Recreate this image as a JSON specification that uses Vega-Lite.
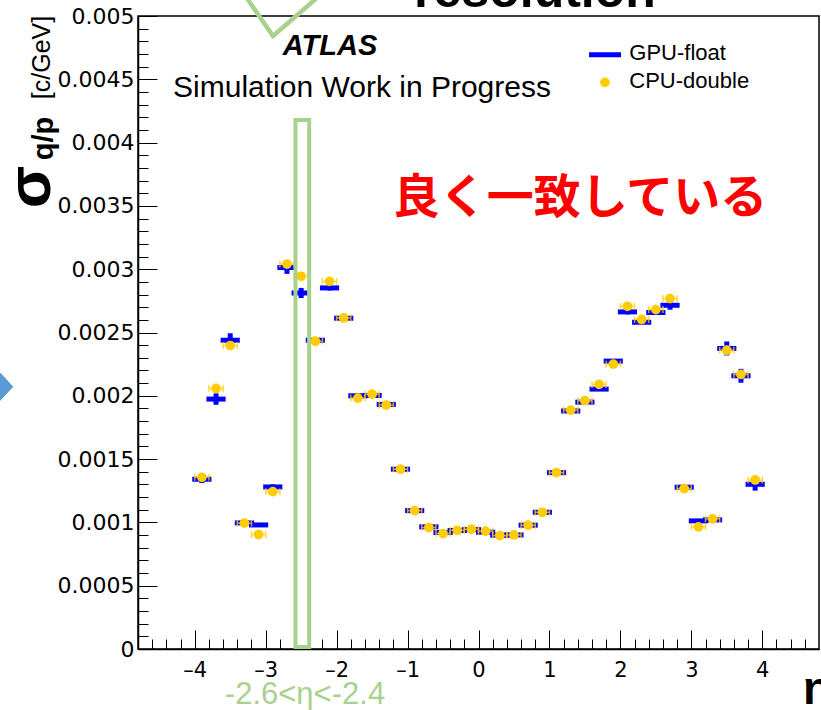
{
  "$schema": "https://vega.github.io/schema/vega-lite/v6.json",
  "width": 681,
  "height": 633,
  "autosize": "none",
  "padding": {"left": 138, "top": 16, "right": 2, "bottom": 61},
  "background": "white",
  "config": {"view": {"stroke": "#000", "strokeWidth": 1.5}, "axis": {"grid": false}},
  "data": {"values": [{}]},
  "datasets": {
    "pts": [
      {"eta": -3.9, "lo": -4.0, "hi": -3.8, "cpu": 0.001356, "gpu": 0.001341, "gerr": 0.00003},
      {"eta": -3.7, "lo": -3.8, "hi": -3.6, "cpu": 0.002058, "gpu": 0.001974, "gerr": 0.000045},
      {"eta": -3.5, "lo": -3.6, "hi": -3.4, "cpu": 0.002397, "gpu": 0.002439, "gerr": 0.000055},
      {"eta": -3.3, "lo": -3.4, "hi": -3.2, "cpu": 0.000994, "gpu": 0.000996, "gerr": 0.00001},
      {"eta": -3.1, "lo": -3.2, "hi": -3.0, "cpu": 0.000904, "gpu": 0.00098, "gerr": 0.00001},
      {"eta": -2.9, "lo": -3.0, "hi": -2.8, "cpu": 0.001243, "gpu": 0.00128, "gerr": 0.00002},
      {"eta": -2.7, "lo": -2.8, "hi": -2.6, "cpu": 0.003041, "gpu": 0.003013, "gerr": 0.00005},
      {"eta": -2.5, "lo": -2.6, "hi": -2.4, "cpu": 0.002944, "gpu": 0.002812, "gerr": 0.00004},
      {"eta": -2.3, "lo": -2.4, "hi": -2.2, "cpu": 0.002431, "gpu": 0.002439, "gerr": 0.00001},
      {"eta": -2.1, "lo": -2.2, "hi": -2.0, "cpu": 0.002904, "gpu": 0.002852, "gerr": 0.00002},
      {"eta": -1.9, "lo": -2.0, "hi": -1.8, "cpu": 0.002615, "gpu": 0.002613, "gerr": 0.00001},
      {"eta": -1.7, "lo": -1.8, "hi": -1.6, "cpu": 0.001982, "gpu": 0.002, "gerr": 0.00001},
      {"eta": -1.5, "lo": -1.6, "hi": -1.4, "cpu": 0.002013, "gpu": 0.002003, "gerr": 0.00001},
      {"eta": -1.3, "lo": -1.4, "hi": -1.2, "cpu": 0.001927, "gpu": 0.001932, "gerr": 0.00001},
      {"eta": -1.1, "lo": -1.2, "hi": -1.0, "cpu": 0.00142, "gpu": 0.00142, "gerr": 0.00001},
      {"eta": -0.9, "lo": -1.0, "hi": -0.8, "cpu": 0.001093, "gpu": 0.001093, "gerr": 0.00001},
      {"eta": -0.7, "lo": -0.8, "hi": -0.6, "cpu": 0.000959, "gpu": 0.000965, "gerr": 0.00001},
      {"eta": -0.5, "lo": -0.6, "hi": -0.4, "cpu": 0.000912, "gpu": 0.00092, "gerr": 0.00001},
      {"eta": -0.3, "lo": -0.4, "hi": -0.2, "cpu": 0.000938, "gpu": 0.000936, "gerr": 0.00001},
      {"eta": -0.1, "lo": -0.2, "hi": 0.0, "cpu": 0.000946, "gpu": 0.000943, "gerr": 0.00001},
      {"eta": 0.1, "lo": 0.0, "hi": 0.2, "cpu": 0.000931, "gpu": 0.000923, "gerr": 0.00001},
      {"eta": 0.3, "lo": 0.2, "hi": 0.4, "cpu": 0.000896, "gpu": 0.000899, "gerr": 0.00001},
      {"eta": 0.5, "lo": 0.4, "hi": 0.6, "cpu": 0.000901, "gpu": 0.000901, "gerr": 0.00001},
      {"eta": 0.7, "lo": 0.6, "hi": 0.8, "cpu": 0.000978, "gpu": 0.000978, "gerr": 0.00001},
      {"eta": 0.9, "lo": 0.8, "hi": 1.0, "cpu": 0.00108, "gpu": 0.00108, "gerr": 0.00001},
      {"eta": 1.1, "lo": 1.0, "hi": 1.2, "cpu": 0.001393, "gpu": 0.001393, "gerr": 0.00001},
      {"eta": 1.3, "lo": 1.2, "hi": 1.4, "cpu": 0.001887, "gpu": 0.00188, "gerr": 0.00001},
      {"eta": 1.5, "lo": 1.4, "hi": 1.6, "cpu": 0.001961, "gpu": 0.00195, "gerr": 0.00001},
      {"eta": 1.7, "lo": 1.6, "hi": 1.8, "cpu": 0.00209, "gpu": 0.002053, "gerr": 0.00001},
      {"eta": 1.9, "lo": 1.8, "hi": 2.0, "cpu": 0.00225, "gpu": 0.002274, "gerr": 0.00001},
      {"eta": 2.1, "lo": 2.0, "hi": 2.2, "cpu": 0.002707, "gpu": 0.002663, "gerr": 0.00002},
      {"eta": 2.3, "lo": 2.2, "hi": 2.4, "cpu": 0.002603, "gpu": 0.002581, "gerr": 0.00001},
      {"eta": 2.5, "lo": 2.4, "hi": 2.6, "cpu": 0.002681, "gpu": 0.002658, "gerr": 0.00001},
      {"eta": 2.7, "lo": 2.6, "hi": 2.8, "cpu": 0.002768, "gpu": 0.002715, "gerr": 0.000035},
      {"eta": 2.9, "lo": 2.8, "hi": 3.0, "cpu": 0.001267, "gpu": 0.001278, "gerr": 0.00001},
      {"eta": 3.1, "lo": 3.0, "hi": 3.2, "cpu": 0.000965, "gpu": 0.001012, "gerr": 0.00001},
      {"eta": 3.3, "lo": 3.2, "hi": 3.4, "cpu": 0.001028, "gpu": 0.00102, "gerr": 0.00001},
      {"eta": 3.5, "lo": 3.4, "hi": 3.6, "cpu": 0.00236, "gpu": 0.002374, "gerr": 0.000055},
      {"eta": 3.7, "lo": 3.6, "hi": 3.8, "cpu": 0.002169, "gpu": 0.002158, "gerr": 0.000055},
      {"eta": 3.9, "lo": 3.8, "hi": 4.0, "cpu": 0.001335, "gpu": 0.001301, "gerr": 0.00005}
    ]
  },
  "resolve": {"axis": {"x": "independent", "y": "independent"}},
  "layer": [
    {
      "data": {"name": "pts"},
      "mark": {"type": "point", "opacity": 0},
      "encoding": {
        "x": {"field": "eta", "type": "quantitative",
          "scale": {"domain": [-4.8, 4.8], "nice": false, "zero": false},
          "axis": {"title": null, "orient": "bottom", "labels": false, "domain": false, "tickSize": -10, "tickColor": "#000", "tickWidth": 1,
            "values": [-4.6, -4.4, -4.2, -3.8, -3.6, -3.4, -3.2, -2.8, -2.6, -2.4, -2.2, -1.8, -1.6, -1.4, -1.2, -0.8, -0.6, -0.4, -0.2, 0.2, 0.4, 0.6, 0.8, 1.2, 1.4, 1.6, 1.8, 2.2, 2.4, 2.6, 2.8, 3.2, 3.4, 3.6, 3.8, 4.2, 4.4, 4.6]}},
        "y": {"field": "cpu", "type": "quantitative",
          "scale": {"domain": [0, 0.005], "nice": false, "zero": false},
          "axis": {"title": null, "orient": "left", "labels": false, "domain": false, "tickSize": -10, "tickColor": "#000", "tickWidth": 1,
            "values": [0.0001, 0.0002, 0.0003, 0.0004, 0.0006, 0.0007, 0.0008, 0.0009, 0.0011, 0.0012, 0.0013, 0.0014, 0.0016, 0.0017, 0.0018, 0.0019, 0.0021, 0.0022, 0.0023, 0.0024, 0.0026, 0.0027, 0.0028, 0.0029, 0.0031, 0.0032, 0.0033, 0.0034, 0.0036, 0.0037, 0.0038, 0.0039, 0.0041, 0.0042, 0.0043, 0.0044, 0.0046, 0.0047, 0.0048, 0.0049]}}
      }
    },
    {
      "data": {"name": "pts"},
      "mark": {"type": "rule", "color": "#0000FF", "strokeWidth": 5, "strokeCap": "square"},
      "encoding": {
        "x": {"field": "lo", "type": "quantitative",
          "scale": {"domain": [-4.8, 4.8], "nice": false, "zero": false},
          "axis": {"title": null, "orient": "bottom", "values": [-4, -3, -2, -1, 0, 1, 2, 3, 4],
            "tickSize": -19, "tickColor": "#000", "tickWidth": 1, "labelPadding": 29,
            "labelFont": "DejaVu Sans", "labelFontSize": 21, "labelColor": "#000",
            "labelExpr": "datum.value < 0 ? '–' + (-datum.value) : '' + datum.value",
            "domainColor": "#000", "domainWidth": 1.5, "labelFlush": false, "labelOverlap": false, "labelBound": false}},
        "x2": {"field": "hi"},
        "y": {"field": "gpu", "type": "quantitative",
          "scale": {"domain": [0, 0.005], "nice": false, "zero": false},
          "axis": {"title": null, "orient": "left",
            "values": [0, 0.0005, 0.001, 0.0015, 0.002, 0.0025, 0.003, 0.0035, 0.004, 0.0045, 0.005],
            "tickSize": -19, "tickColor": "#000", "tickWidth": 1, "labelPadding": 23,
            "labelFont": "DejaVu Sans", "labelFontSize": 22, "labelColor": "#000",
            "labelExpr": "format(datum.value, '~g')",
            "domainColor": "#000", "domainWidth": 1.5, "labelFlush": false, "labelOverlap": false, "labelBound": false}}
      }
    },
    {
      "data": {"name": "pts"},
      "mark": {"type": "errorbar", "thickness": 5, "color": "#0000FF"},
      "encoding": {
        "x": {"field": "eta", "type": "quantitative", "axis": null},
        "y": {"field": "gpu", "type": "quantitative", "axis": null},
        "yError": {"field": "gerr"}
      }
    },
    {
      "data": {"name": "pts"},
      "mark": {"type": "rule", "color": "#FFCC00", "strokeWidth": 1.5, "opacity": 0.75},
      "encoding": {
        "x": {"field": "lo", "type": "quantitative", "axis": null},
        "x2": {"field": "hi"},
        "y": {"field": "cpu", "type": "quantitative", "axis": null}
      }
    },
    {
      "data": {"name": "pts"},
      "mark": {"type": "tick", "orient": "vertical", "size": 7, "thickness": 1.5, "color": "#FFCC00", "opacity": 0.75},
      "encoding": {
        "x": {"field": "lo", "type": "quantitative", "axis": null},
        "y": {"field": "cpu", "type": "quantitative", "axis": null}
      }
    },
    {
      "data": {"name": "pts"},
      "mark": {"type": "tick", "orient": "vertical", "size": 7, "thickness": 1.5, "color": "#FFCC00", "opacity": 0.75},
      "encoding": {
        "x": {"field": "hi", "type": "quantitative", "axis": null},
        "y": {"field": "cpu", "type": "quantitative", "axis": null}
      }
    },
    {
      "data": {"name": "pts"},
      "mark": {"type": "point", "filled": true, "size": 95, "color": "#FFCC00", "opacity": 1},
      "encoding": {
        "x": {"field": "eta", "type": "quantitative", "axis": null},
        "y": {"field": "cpu", "type": "quantitative", "axis": null}
      }
    },
    {
      "mark": {"type": "rect", "fillOpacity": 0, "stroke": "#A9D18E", "strokeWidth": 4},
      "encoding": {
        "x": {"datum": -2.58, "type": "quantitative", "axis": null},
        "x2": {"datum": -2.387},
        "y": {"datum": 0.000015, "type": "quantitative", "axis": null},
        "y2": {"datum": 0.004178}
      }
    },
    {
      "mark": {"type": "rule", "color": "#A9D18E", "strokeWidth": 4.5, "strokeCap": "round"},
      "encoding": {
        "x": {"datum": -3.277, "type": "quantitative", "axis": null},
        "x2": {"datum": -2.897},
        "y": {"datum": 0.00515, "type": "quantitative", "axis": null},
        "y2": {"datum": 0.004842}
      }
    },
    {
      "mark": {"type": "rule", "color": "#A9D18E", "strokeWidth": 4.5, "strokeCap": "round"},
      "encoding": {
        "x": {"datum": -2.897, "type": "quantitative", "axis": null},
        "x2": {"datum": -2.263},
        "y": {"datum": 0.004842, "type": "quantitative", "axis": null},
        "y2": {"datum": 0.00515}
      }
    },
    {
      "mark": {"type": "point", "shape": "M-3,-3.24L0,0L-3,3.24Z", "filled": true, "size": 676, "color": "#5B9BD5", "opacity": 1},
      "encoding": {
        "x": {"datum": -6.558, "type": "quantitative", "axis": null},
        "y": {"datum": 0.002072, "type": "quantitative", "axis": null}
      }
    },
    {
      "mark": {"type": "rule", "color": "#0000FF", "strokeWidth": 5},
      "encoding": {
        "x": {"datum": 1.558, "type": "quantitative", "axis": null},
        "x2": {"datum": 2.009},
        "y": {"datum": 0.004694, "type": "quantitative", "axis": null}
      }
    },
    {
      "mark": {"type": "point", "filled": true, "size": 95, "color": "#FFCC00", "opacity": 1},
      "encoding": {
        "x": {"datum": 1.783, "type": "quantitative", "axis": null},
        "y": {"datum": 0.004476, "type": "quantitative", "axis": null}
      }
    },
    {
      "mark": {"type": "text", "text": "GPU-float", "font": "Liberation Sans", "fontSize": 22, "align": "left", "baseline": "alphabetic", "color": "#000"},
      "encoding": {
        "x": {"datum": 2.126, "type": "quantitative", "axis": null},
        "y": {"datum": 0.004652, "type": "quantitative", "axis": null}
      }
    },
    {
      "mark": {"type": "text", "text": "CPU-double", "font": "Liberation Sans", "fontSize": 22, "align": "left", "baseline": "alphabetic", "color": "#000"},
      "encoding": {
        "x": {"datum": 2.126, "type": "quantitative", "axis": null},
        "y": {"datum": 0.004429, "type": "quantitative", "axis": null}
      }
    },
    {
      "mark": {"type": "text", "text": "ATLAS", "font": "Liberation Sans", "fontSize": 29, "fontWeight": "bold", "fontStyle": "italic", "align": "center", "baseline": "alphabetic", "color": "#000"},
      "encoding": {
        "x": {"datum": -2.093, "type": "quantitative", "axis": null},
        "y": {"datum": 0.004692, "type": "quantitative", "axis": null}
      }
    },
    {
      "mark": {"type": "text", "text": "Simulation Work in Progress", "font": "Liberation Sans", "fontSize": 30, "align": "center", "baseline": "alphabetic", "color": "#000"},
      "encoding": {
        "x": {"datum": -1.642, "type": "quantitative", "axis": null},
        "y": {"datum": 0.004364, "type": "quantitative", "axis": null}
      }
    },
    {
      "mark": {"type": "text", "text": "良く一致している", "font": "Noto Sans CJK JP", "fontSize": 47, "fontWeight": "bold", "align": "center", "baseline": "middle", "color": "#FF0000"},
      "encoding": {
        "x": {"datum": 1.431, "type": "quantitative", "axis": null},
        "y": {"datum": 0.003555, "type": "quantitative", "axis": null}
      }
    },
    {
      "mark": {"type": "text", "text": "resolution", "font": "Liberation Sans", "fontSize": 50, "fontWeight": "bold", "align": "center", "baseline": "alphabetic", "color": "#000"},
      "encoding": {
        "x": {"datum": 0.796, "type": "quantitative", "axis": null},
        "y": {"datum": 0.005071, "type": "quantitative", "axis": null}
      }
    },
    {
      "mark": {"type": "text", "text": "-2.6<η<-2.4", "font": "Liberation Sans", "fontSize": 31, "align": "center", "baseline": "alphabetic", "color": "#A9D18E"},
      "encoding": {
        "x": {"datum": -2.446, "type": "quantitative", "axis": null},
        "y": {"datum": -0.000434, "type": "quantitative", "axis": null}
      }
    },
    {
      "mark": {"type": "text", "text": "η", "font": "Liberation Sans", "fontSize": 46, "fontWeight": "bold", "align": "left", "baseline": "alphabetic", "color": "#000"},
      "encoding": {
        "x": {"datum": 4.574, "type": "quantitative", "axis": null},
        "y": {"datum": -0.000434, "type": "quantitative", "axis": null}
      }
    },
    {
      "mark": {"type": "text", "text": "σ", "font": "Liberation Sans", "fontSize": 62, "fontWeight": "bold", "align": "center", "baseline": "alphabetic", "angle": 270, "color": "#000"},
      "encoding": {
        "x": {"datum": -6.04, "type": "quantitative", "axis": null},
        "y": {"datum": 0.003649, "type": "quantitative", "axis": null}
      }
    },
    {
      "mark": {"type": "text", "text": "q/p", "font": "Liberation Sans", "fontSize": 29, "fontWeight": "bold", "align": "center", "baseline": "alphabetic", "angle": 270, "color": "#000"},
      "encoding": {
        "x": {"datum": -5.998, "type": "quantitative", "axis": null},
        "y": {"datum": 0.004032, "type": "quantitative", "axis": null}
      }
    },
    {
      "mark": {"type": "text", "text": "[c/GeV]", "font": "Liberation Sans", "fontSize": 25, "align": "center", "baseline": "alphabetic", "angle": 270, "color": "#000"},
      "encoding": {
        "x": {"datum": -6.04, "type": "quantitative", "axis": null},
        "y": {"datum": 0.004672, "type": "quantitative", "axis": null}
      }
    }
  ]
}
